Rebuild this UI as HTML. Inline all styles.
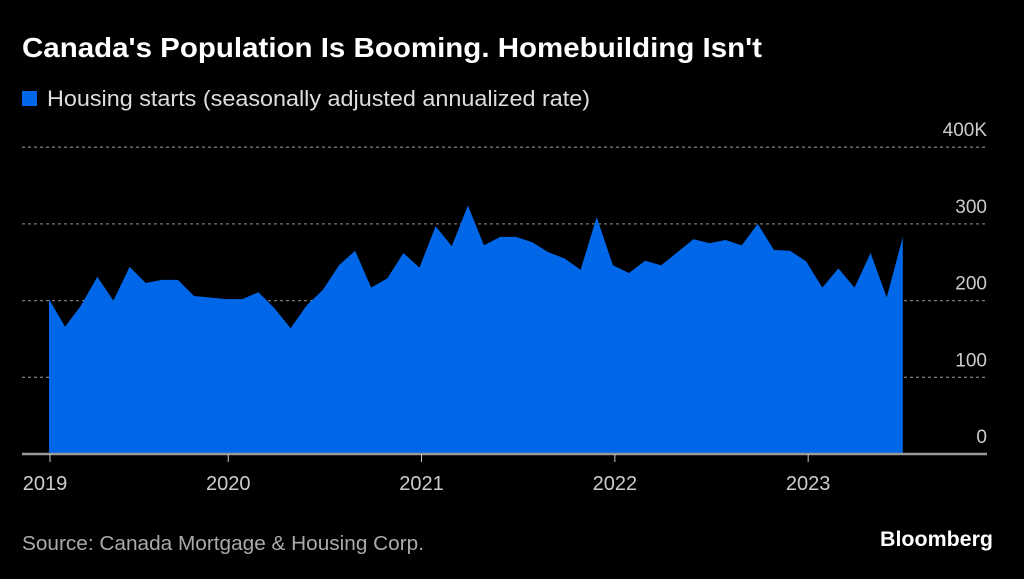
<!DOCTYPE html>
<html><head><meta charset="utf-8"><style>
body{margin:0;background:#000;width:1024px;height:574px;overflow:hidden;font-family:"Liberation Sans",sans-serif}
</style></head><body>
<svg width="1024" height="574">
<text x="22" y="57" fill="#fff" font-size="28" font-weight="bold" textLength="740" lengthAdjust="spacingAndGlyphs">Canada's Population Is Booming. Homebuilding Isn't</text>
<rect x="22" y="91" width="15" height="15" fill="#0068e8"/>
<text x="47" y="106" fill="#ddd" font-size="22" textLength="543" lengthAdjust="spacingAndGlyphs">Housing starts (seasonally adjusted annualized rate)</text>
<g id="grid"></g>
<path id="area" fill="#0068e8"/>
<line x1="22" x2="987" y1="454" y2="454" stroke="#999" stroke-width="2.5"/>
<g id="xt"></g>
<text x="22" y="550" fill="#aaa" font-size="20" textLength="402" lengthAdjust="spacingAndGlyphs">Source: Canada Mortgage &amp; Housing Corp.</text>
<text x="993" y="546" fill="#fff" font-size="21" font-weight="bold" text-anchor="end" textLength="113" lengthAdjust="spacingAndGlyphs">Bloomberg</text>
</svg>
<script>
const values=[202,166,194,231,200,244,223,227,227,206,204,202,202,211,190,164,194,214,246,265,217,229,262,243,297,271,324,272,283,283,276,263,255,240,309,246,236,252,246,263,280,275,279,272,300,266,265,251,217,242,217,262,204,283];
const yTicks=[0,100,200,300,400];
const yLabels=["0","100","200","300","400K"];
const xYears=[2019,2020,2021,2022,2023];
const startMonth=1; // Feb 2019, months since Jan 2019
const NS="http://www.w3.org/2000/svg";
function yS(v){return 454-v*0.767;}
function xS(m){return 49+(m-1)*16.11;}
const g=document.getElementById('grid');
yTicks.forEach((t,i)=>{
 if(t>0){const l=document.createElementNS(NS,'line');
 l.setAttribute('x1',22);l.setAttribute('x2',987);l.setAttribute('y1',yS(t));l.setAttribute('y2',yS(t));
 l.setAttribute('stroke','#777');l.setAttribute('stroke-dasharray','3,3');l.setAttribute('stroke-width','1.3');
 
 
 g.appendChild(l);}
 const tx=document.createElementNS(NS,'text');
 tx.setAttribute('x',987);tx.setAttribute('y',yS(t)-11);tx.setAttribute('text-anchor','end');
 tx.setAttribute('fill','#ccc');tx.setAttribute('font-size','19');tx.textContent=yLabels[i];
 
 
 g.appendChild(tx);
});
let d='M'+xS(startMonth)+','+yS(0);
values.forEach((v,i)=>{d+=' L'+xS(startMonth+i).toFixed(1)+','+yS(v).toFixed(1);});
d+=' L'+xS(startMonth+values.length-1).toFixed(1)+','+yS(0)+' Z';
document.getElementById('area').setAttribute('d',d);
const xt=document.getElementById('xt');
xYears.forEach((y,i)=>{
 const m=(y-2019)*12;const x=Math.max(xS(m)+2,50);
 const l=document.createElementNS(NS,'line');
 l.setAttribute('x1',x);l.setAttribute('x2',x);l.setAttribute('y1',454);l.setAttribute('y2',462);l.setAttribute('stroke','#ccc');
 
 
 xt.appendChild(l);
 const tx=document.createElementNS(NS,'text');
 tx.setAttribute('x',i==0?45:x);tx.setAttribute('y',490);tx.setAttribute('text-anchor','middle');
 tx.setAttribute('fill','#ccc');tx.setAttribute('font-size','20');tx.textContent=y;
 
 
 xt.appendChild(tx);
});
</script>
</body></html>
